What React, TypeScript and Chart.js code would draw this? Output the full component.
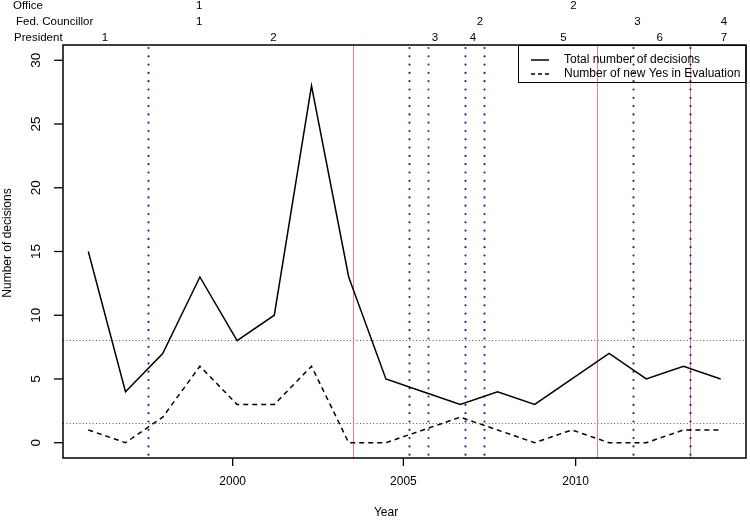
import React, { useEffect, useRef } from 'react';
import { Chart, registerables } from 'chart.js';

Chart.register(...registerables);

// ---- data ----
const years = [1996, 1997, 1998, 1999, 2000, 2001, 2002, 2003, 2004, 2005, 2006, 2007, 2008, 2009, 2010, 2011, 2012, 2013];
const totalDecisions = [15, 4, 7, 13, 8, 10, 28, 13, 5, 4, 3, 4, 3, 5, 7, 5, 6, 5];
const newYesInEvaluation = [1, 0, 2, 6, 3, 3, 6, 0, 0, 1, 2, 1, 0, 1, 0, 0, 1, 1];
const meanTotal = 8.06;
const meanNewYes = 1.56;

const yTicks = [0, 5, 10, 15, 20, 25, 30];
const xTickPos = [1999.88, 2004.47, 2009.1];
const xTickLabels = ['2000', '2005', '2010'];

// event lines (x in the same units as the data)
const presidentChanges = [1997.6, 2004.63, 2006.13, 2006.63, 2010.65, 2012.17];
const councillorChanges = [2003.12, 2009.67, 2012.17];
const officeChanges = [2005.14];

// header labels
const officeLabels = ['1', '2'];
const officeLabelPos = [1998.98, 2009.04];
const councillorLabels = ['1', '2', '3', '4'];
const councillorLabelPos = [1998.98, 2006.53, 2010.76, 2013.09];
const presidentLabels = ['1', '2', '3', '4', '5', '6', '7'];
const presidentLabelPos = [1996.45, 2000.98, 2005.32, 2006.34, 2008.77, 2011.36, 2013.09];

const seriesNames = ['Total number of decisions', 'Number of new Yes in Evaluation'];

const FAMILY = '"Liberation Sans", Arial, Helvetica, sans-serif';
const FONT = '12px ' + FAMILY;
const FONT_Y = '13.5px ' + FAMILY;
const FONT_HEAD = '11.5px ' + FAMILY;

const decorPlugin = {
  id: 'decor',
  beforeDatasetsDraw(chart: any) {
    const { ctx, chartArea: a, scales } = chart;
    const x = scales.x;
    const y = scales.y;
    ctx.save();
    // mean lines
    ctx.strokeStyle = '#555';
    ctx.lineWidth = 1;
    ctx.setLineDash([1, 2.3]);
    [meanTotal, meanNewYes].forEach((v) => {
      const py = Math.round(y.getPixelForValue(v)) + 0.5;
      ctx.beginPath();
      ctx.moveTo(a.left, py);
      ctx.lineTo(a.right, py);
      ctx.stroke();
    });
    // councillor changes: thin red
    ctx.setLineDash([]);
    ctx.strokeStyle = '#e48080';
    ctx.lineWidth = 1;
    councillorChanges.forEach((v) => {
      const px = Math.round(x.getPixelForValue(v)) + 0.5;
      ctx.beginPath();
      ctx.moveTo(px, a.top);
      ctx.lineTo(px, a.bottom);
      ctx.stroke();
    });
    // dotted lines
    const dotted = (vals: number[], color: string) => {
      ctx.strokeStyle = color;
      ctx.lineWidth = 2.2;
      ctx.lineCap = 'round';
      ctx.setLineDash([0, 8.3]);
      vals.forEach((v) => {
        const px = Math.round(x.getPixelForValue(v)) + 0.5;
        ctx.beginPath();
        ctx.moveTo(px, a.top + 3);
        ctx.lineTo(px, a.bottom);
        ctx.stroke();
      });
    };
    dotted(presidentChanges, '#1e1ea8');
    dotted(officeChanges, '#16661e');
    ctx.restore();
  },
  afterDraw(chart: any) {
    const { ctx, chartArea: a, scales } = chart;
    const x = scales.x;
    const y = scales.y;
    ctx.save();
    ctx.setLineDash([]);
    ctx.strokeStyle = '#000';
    ctx.fillStyle = '#000';
    // frame
    ctx.lineWidth = 1.5;
    ctx.strokeRect(a.left, a.top, a.right - a.left, a.bottom - a.top);
    // y ticks
    ctx.font = FONT_Y;
    ctx.lineWidth = 1.3;
    yTicks.forEach((v) => {
      const py = y.getPixelForValue(v);
      ctx.beginPath();
      ctx.moveTo(a.left - 9, py);
      ctx.lineTo(a.left, py);
      ctx.stroke();
      ctx.save();
      ctx.translate(36, py);
      ctx.rotate(-Math.PI / 2);
      ctx.textAlign = 'center';
      ctx.textBaseline = 'middle';
      ctx.fillText(String(v), 0, 0);
      ctx.restore();
    });
    // x ticks
    ctx.font = FONT;
    xTickPos.forEach((v, i) => {
      const px = x.getPixelForValue(v);
      ctx.beginPath();
      ctx.moveTo(px, a.bottom);
      ctx.lineTo(px, a.bottom + 8);
      ctx.stroke();
      ctx.textAlign = 'center';
      ctx.textBaseline = 'middle';
      ctx.fillText(xTickLabels[i], px, 482);
    });
    // axis titles
    ctx.textAlign = 'center';
    ctx.textBaseline = 'middle';
    ctx.fillText('Year', 386, 513);
    ctx.save();
    ctx.translate(8, 243);
    ctx.rotate(-Math.PI / 2);
    ctx.fillText('Number of decisions', 0, 0);
    ctx.restore();
    // header rows
    ctx.font = FONT_HEAD;
    ctx.textAlign = 'left';
    ctx.fillText('Office', 13, 6);
    ctx.fillText('Fed. Councillor', 16, 22);
    ctx.fillText('President', 14, 38);
    ctx.textAlign = 'center';
    officeLabels.forEach((t, i) => ctx.fillText(t, x.getPixelForValue(officeLabelPos[i]), 6));
    councillorLabels.forEach((t, i) => ctx.fillText(t, x.getPixelForValue(councillorLabelPos[i]), 22));
    presidentLabels.forEach((t, i) => ctx.fillText(t, x.getPixelForValue(presidentLabelPos[i]), 38));
    // legend
    ctx.font = FONT;
    ctx.lineWidth = 1;
    ctx.strokeRect(518.5, a.top + 0.5, a.right - 518.5, 37);
    ctx.lineWidth = 1.5;
    ctx.beginPath();
    ctx.moveTo(531, 60);
    ctx.lineTo(549, 60);
    ctx.stroke();
    ctx.setLineDash([4, 3]);
    ctx.beginPath();
    ctx.moveTo(531, 74);
    ctx.lineTo(549, 74);
    ctx.stroke();
    ctx.setLineDash([]);
    ctx.textAlign = 'left';
    ctx.fillText(seriesNames[0], 564, 60);
    ctx.fillText(seriesNames[1], 564, 74);
    ctx.restore();
  },
};

export default function App() {
  const ref = useRef<HTMLCanvasElement>(null);
  useEffect(() => {
    if (!ref.current) return;
    const chart = new Chart(ref.current, {
      type: 'line',
      data: {
        datasets: [
          {
            label: seriesNames[0],
            data: years.map((yr, i) => ({ x: yr, y: totalDecisions[i] })),
            borderColor: '#000',
            borderWidth: 1.5,
            pointRadius: 0,
            tension: 0,
            fill: false,
          },
          {
            label: seriesNames[1],
            data: years.map((yr, i) => ({ x: yr, y: newYesInEvaluation[i] })),
            borderColor: '#000',
            borderWidth: 1.5,
            borderDash: [5, 4],
            pointRadius: 0,
            tension: 0,
            fill: false,
          },
        ],
      },
      options: {
        animation: false,
        responsive: false,
        maintainAspectRatio: false,
        devicePixelRatio: 1,
        layout: { padding: { left: 63, top: 45, right: 4, bottom: 63 } },
        plugins: { legend: { display: false }, tooltip: { enabled: false } },
        scales: {
          x: { type: 'linear', min: 1995.32, max: 2013.68, display: false },
          y: { type: 'linear', min: -1.2, max: 31.2, display: false },
        },
      },
      plugins: [decorPlugin],
    });
    return () => chart.destroy();
  }, []);
  return (
    <div style={{ position: 'fixed', left: 0, top: 0, width: 750, height: 521, background: '#fff' }}>
      <canvas ref={ref} width={750} height={521} style={{ width: 750, height: 521, display: 'block' }} />
    </div>
  );
}
